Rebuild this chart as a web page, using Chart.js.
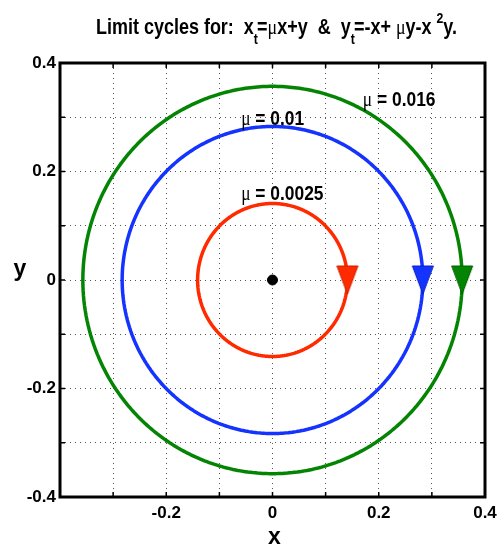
<!DOCTYPE html>
<html>
<head>
<meta charset="utf-8">
<script src="https://cdn.jsdelivr.net/npm/chart.js@4/dist/chart.umd.min.js"></script>
<style>
  html, body { margin: 0; padding: 0; background: #ffffff; }
  #wrap { width: 499px; height: 551px; }
</style>
</head>
<body>
<div id="wrap"><canvas id="c" width="499" height="551"></canvas></div>
<script>
// Limit cycles of x_t = mu*x + y, y_t = -x + mu*y - x^2*y for three values of mu
const muValues = [0.0025, 0.01, 0.016];
const cycleRadius = [0.141, 0.283, 0.357];      // amplitude of each cycle
const arrowY = [0.0, 0.0, 0.0];                  // where the direction arrow sits on each cycle
const cycleColors = ['#ff2a00', '#1433ff', '#038403'];
const arrowEdge = ['#c81e00', '#0a22c8', '#026002'];

const tickValues = [-0.4, -0.3, -0.2, -0.1, 0, 0.1, 0.2, 0.3, 0.4];
const xTickLabels = ['', '', '-0.2', '', '0', '', '0.2', '', '0.4'];
const yTickLabels = ['-0.4', '', '-0.2', '', '0', '', '0.2', '', '0.4'];

// label anchors (data coordinates, left end / baseline)
const muLabelAnchors = [
  { x: -0.059, y: 0.148 },
  { x: -0.059, y: 0.286 },
  { x: 0.170, y: 0.321 }
];

const SANS = '"Liberation Sans", Arial, Helvetica, sans-serif';
const SERIF = '"Liberation Serif", "Times New Roman", serif';

// closed curve tracing a cycle of given amplitude
function cycleCurve(r) {
  const pts = [];
  const n = 240;
  for (let k = 0; k <= n; k++) {
    const a = (k / n) * Math.PI * 2;
    pts.push({ x: r * Math.cos(a), y: r * Math.sin(a) });
  }
  return pts;
}

// downward-pointing arrow head used as a point style
function arrowHead(fill, edge) {
  const c = document.createElement('canvas');
  c.width = 24; c.height = 32;
  const g = c.getContext('2d');
  g.beginPath();
  g.moveTo(1.5, 2);
  g.lineTo(22.5, 2);
  g.lineTo(12, 30);
  g.closePath();
  g.fillStyle = fill;
  g.fill();
  g.lineWidth = 1;
  g.strokeStyle = edge;
  g.stroke();
  return c;
}

const datasets = [];
datasets.push({
  label: 'direction',
  data: cycleRadius.map((r, i) => ({ x: r, y: arrowY[i] })),
  pointStyle: cycleColors.map((c, i) => arrowHead(c, arrowEdge[i])),
  showLine: false,
  order: 0
});
datasets.push({
  label: 'origin',
  data: [{ x: 0, y: 0 }],
  pointRadius: 5,
  pointBackgroundColor: '#000000',
  pointBorderColor: '#000000',
  showLine: false,
  order: 1
});
muValues.forEach((mu, i) => {
  datasets.push({
    label: 'mu = ' + mu,
    data: cycleCurve(cycleRadius[i]),
    showLine: true,
    borderColor: cycleColors[i],
    borderWidth: 3.5,
    pointRadius: 0,
    fill: false,
    tension: 0.001,   // keeps the smooth path (no x-pixel collapsing)
    order: 2
  });
});

// draw a run of text pieces with mixed fonts, compressed horizontally
function runWidth(ctx, segs) {
  let w = 0;
  segs.forEach(s => { ctx.font = s.font; w += ctx.measureText(s.t).width + (s.kern || 0); });
  return w;
}
function drawRun(ctx, x, y, segs, sx) {
  ctx.save();
  ctx.translate(x, y);
  ctx.scale(sx, 1);
  ctx.textBaseline = 'alphabetic';
  ctx.textAlign = 'left';
  ctx.fillStyle = '#000';
  let cx = 0;
  segs.forEach(s => {
    ctx.font = s.font;
    ctx.fillText(s.t, cx, s.dy || 0);
    cx += ctx.measureText(s.t).width + (s.kern || 0);
  });
  ctx.restore();
}

const frameAndText = {
  id: 'frameAndText',
  afterDatasetsDraw(chart) {
    const ctx = chart.ctx;
    const a = chart.chartArea;
    const xs = chart.scales.x, ys = chart.scales.y;
    ctx.save();
    // inward tick marks on all four sides
    ctx.strokeStyle = '#000';
    ctx.lineWidth = 1.5;
    ctx.beginPath();
    tickValues.forEach(v => {
      const px = xs.getPixelForValue(v);
      ctx.moveTo(px, a.bottom); ctx.lineTo(px, a.bottom - 5);
      ctx.moveTo(px, a.top); ctx.lineTo(px, a.top + 5);
      const py = ys.getPixelForValue(v);
      ctx.moveTo(a.left, py); ctx.lineTo(a.left + 5, py);
      ctx.moveTo(a.right, py); ctx.lineTo(a.right - 5, py);
    });
    ctx.stroke();
    // box
    ctx.lineWidth = 3;
    ctx.strokeRect(a.left, a.top, a.right - a.left, a.bottom - a.top);
    ctx.restore();
  },
  afterDraw(chart) {
    const ctx = chart.ctx;
    const xs = chart.scales.x, ys = chart.scales.y;
    const B = s => 'bold ' + s + 'px ' + SANS;
    const M = s => s + 'px ' + SERIF;

    // title
    const title = [
      { t: 'Limit cycles for:  x', font: B(22) },
      { t: 't', font: B(15), dy: 10, kern: -1 },
      { t: '=', font: B(22) },
      { t: 'μ', font: M(22) },
      { t: 'x+y  &  y', font: B(22) },
      { t: 't', font: B(15), dy: 10, kern: -1 },
      { t: '=-x+ ', font: B(22) },
      { t: 'μ', font: M(22) },
      { t: 'y-x ', font: B(22) },
      { t: '2', font: B(15), dy: -11 },
      { t: 'y.', font: B(22) }
    ];
    const tw = runWidth(ctx, title);
    drawRun(ctx, 96, 34, title, 361 / tw);

    // mu labels next to each cycle
    muValues.forEach((mu, i) => {
      const p = muLabelAnchors[i];
      const segs = [
        { t: 'μ', font: M(20) },
        { t: ' = ' + mu, font: B(20) }
      ];
      drawRun(ctx, xs.getPixelForValue(p.x), ys.getPixelForValue(p.y), segs, 0.87);
    });

    // axis names
    ctx.save();
    ctx.fillStyle = '#000';
    ctx.font = 'bold 23px ' + SANS;
    ctx.textAlign = 'center';
    ctx.textBaseline = 'alphabetic';
    ctx.fillText('x', (chart.chartArea.left + chart.chartArea.right) / 2 + 2, 544);
    ctx.fillText('y', 20, 276);
    ctx.restore();
  }
};

new Chart(document.getElementById('c'), {
  type: 'scatter',
  data: { datasets },
  options: {
    responsive: false,
    devicePixelRatio: 1,
    animation: false,
    layout: { padding: { top: 63, right: 14, left: 0, bottom: 0 } },
    plugins: {
      legend: { display: false },
      tooltip: { enabled: false },
      title: { display: false }
    },
    elements: { line: { borderJoinStyle: 'round', borderCapStyle: 'round' } },
    scales: {
      x: {
        type: 'linear',
        min: -0.4, max: 0.4,
        afterBuildTicks: s => { s.ticks = tickValues.map(v => ({ value: v })); },
        afterFit: s => { s.height = 54; s.paddingLeft = 0; s.paddingRight = 0; },
        ticks: {
          autoSkip: false, maxRotation: 0, padding: 6, color: '#000',
          font: { family: SANS, size: 17, weight: 'bold' },
          callback: (v, i) => xTickLabels[i]
        },
        grid: { color: '#555555', lineWidth: 1, drawTicks: false },
        border: { display: false, dash: [1, 4] }
      },
      y: {
        type: 'linear',
        min: -0.4, max: 0.4,
        afterBuildTicks: s => { s.ticks = tickValues.map(v => ({ value: v })); },
        afterFit: s => { s.width = 60; s.paddingTop = 0; s.paddingBottom = 0; },
        ticks: {
          autoSkip: false, padding: 4, color: '#000',
          font: { family: SANS, size: 17, weight: 'bold' },
          callback: (v, i) => yTickLabels[i]
        },
        grid: { color: '#555555', lineWidth: 1, drawTicks: false },
        border: { display: false, dash: [1, 4] }
      }
    }
  },
  plugins: [frameAndText]
});
</script>
</body>
</html>
